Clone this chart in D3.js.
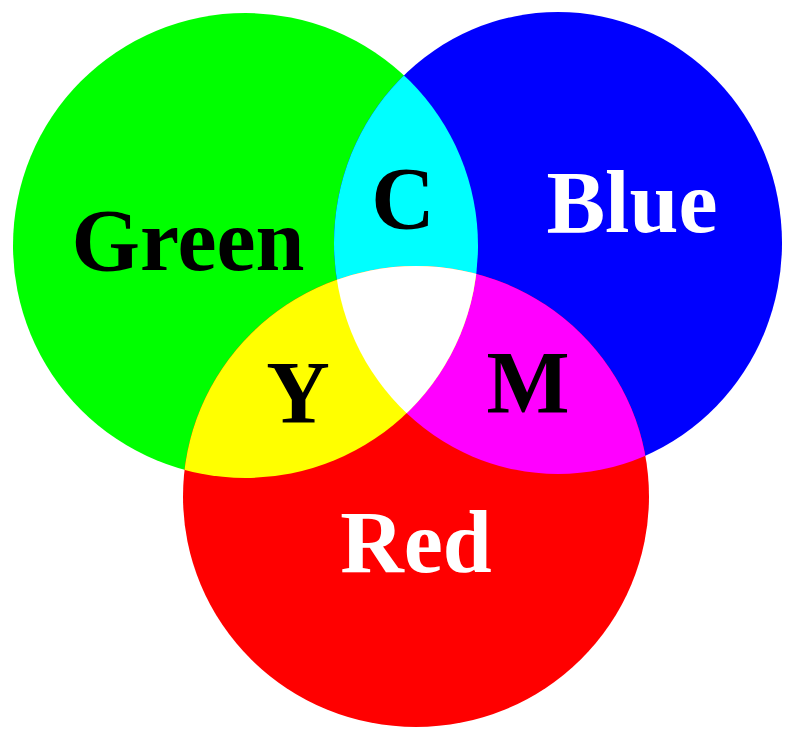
<!DOCTYPE html>
<html>
<head>
<meta charset="utf-8">
<script src="https://cdn.jsdelivr.net/npm/d3@7"></script>
<style>
  html, body { margin: 0; padding: 0; background: #ffffff; }
  svg { display: block; }
</style>
</head>
<body>
<svg id="chart" width="790" height="729"></svg>
<script>
// ---- data ----
const primaryNames  = ["Green", "Blue", "Red"];
const primaryColors = ["#00ff00", "#0000ff", "#ff0000"];
const primaryTextColors = ["#000000", "#ffffff", "#ffffff"];
const overlapNames  = ["C", "M", "Y"];            // Green∩Blue, Blue∩Red, Red∩Green
const overlapPairs  = [[0, 1], [1, 2], [2, 0]];
const overlapColors = ["#00ffff", "#ff00ff", "#ffff00"];
const centerColor   = "#ffffff";

// ---- layout (not data) ----
const circleLayout = [
  { cx: 245.5, cy: 245.5, rx: 232.5, ry: 232.5 },   // Green
  { cx: 558,   cy: 243,   rx: 224,   ry: 231   },   // Blue
  { cx: 416,   cy: 496.5, rx: 233,   ry: 230.5 }    // Red
];
const primaryLabelPos = [
  { x: 188, y: 270 },
  { x: 632, y: 232 },
  { x: 416, y: 572 }
];
const overlapLabelPos = [
  { x: 403, y: 228 },
  { x: 528, y: 412 },
  { x: 298, y: 422 }
];
const fontSize = 88;

const svg = d3.select("#chart");
const defs = svg.append("defs");

const circles = primaryNames.map((n, i) => ({
  name: n, color: primaryColors[i], textColor: primaryTextColors[i], ...circleLayout[i]
}));

function shape(sel, c) {
  return sel.attr("cx", c.cx).attr("cy", c.cy).attr("rx", c.rx).attr("ry", c.ry);
}

// clip paths for each circle
defs.selectAll("clipPath")
  .data(circles)
  .join("clipPath")
  .attr("id", (d, i) => "clip" + i)
  .append("ellipse")
  .each(function (d) { shape(d3.select(this), d); });

// primaries
svg.append("g").selectAll("ellipse")
  .data(circles)
  .join("ellipse")
  .each(function (d) { shape(d3.select(this), d); })
  .attr("fill", d => d.color);

// pairwise overlaps
const overlaps = overlapNames.map((n, i) => ({
  name: n, color: overlapColors[i], a: overlapPairs[i][0], b: overlapPairs[i][1]
}));
svg.append("g").selectAll("g")
  .data(overlaps)
  .join("g")
  .attr("clip-path", d => `url(#clip${d.a})`)
  .append("ellipse")
  .each(function (d) { shape(d3.select(this), circles[d.b]); })
  .attr("fill", d => d.color);

// triple overlap
shape(svg.append("g").attr("clip-path", "url(#clip0)")
  .append("g").attr("clip-path", "url(#clip1)")
  .append("ellipse"), circles[2])
  .attr("fill", centerColor);

const fontFamily = "'Liberation Serif', 'Times New Roman', serif";

// primary labels
svg.append("g").selectAll("text")
  .data(circles)
  .join("text")
  .attr("x", (d, i) => primaryLabelPos[i].x)
  .attr("y", (d, i) => primaryLabelPos[i].y)
  .attr("text-anchor", "middle")
  .attr("font-family", fontFamily)
  .attr("font-weight", "bold")
  .attr("font-size", fontSize)
  .attr("fill", d => d.textColor)
  .text(d => d.name);

// overlap labels
svg.append("g").selectAll("text")
  .data(overlaps)
  .join("text")
  .attr("x", (d, i) => overlapLabelPos[i].x)
  .attr("y", (d, i) => overlapLabelPos[i].y)
  .attr("text-anchor", "middle")
  .attr("font-family", fontFamily)
  .attr("font-weight", "bold")
  .attr("font-size", fontSize)
  .attr("fill", "#000000")
  .text(d => d.name);
</script>
</body>
</html>
